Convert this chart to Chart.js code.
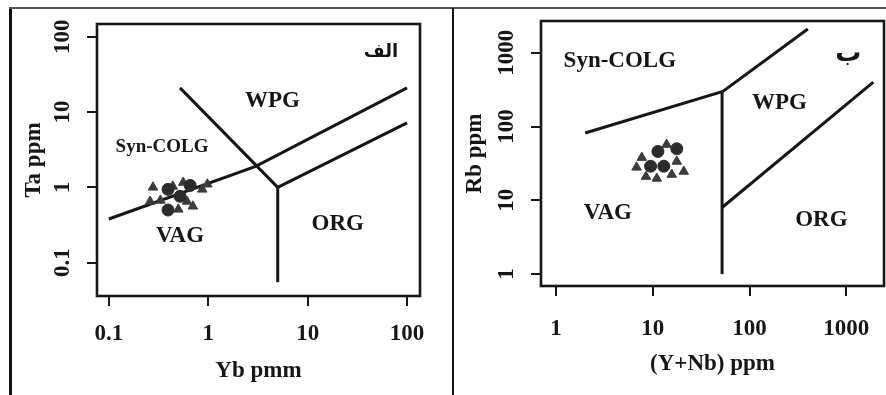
<!DOCTYPE html>
<html><head><meta charset="utf-8">
<script src="https://cdn.jsdelivr.net/npm/chart.js@4.4.1/dist/chart.umd.min.js"></script>
<style>
html,body{margin:0;padding:0;background:#fff;}
#wrap{position:relative;width:886px;height:395px;overflow:hidden;background:#fff;}
canvas{position:absolute;top:0;}
.ln{position:absolute;background:#111;}
</style></head><body>
<div id="wrap">
<canvas id="c1" width="450" height="395" style="left:0px"></canvas>
<canvas id="c2" width="436" height="395" style="left:455px"></canvas>
<div class="ln" style="left:9px;top:8px;width:3px;height:387px;"></div>
<div class="ln" style="left:9px;top:7px;width:877px;height:2px;background:#555"></div>
<div class="ln" style="left:452px;top:8px;width:2px;height:387px;"></div>
</div>
<script>
// ---------- Panel A (Ta vs Yb) ----------
const aXTicks = [0.1, 1, 10, 100];
const aYTicks = [0.1, 1, 10, 100];
const aLineVagWpg = [{x:0.1,y:0.38},{x:3,y:1.9},{x:100,y:21}];
const aLineWpgCol = [{x:0.52,y:21},{x:5,y:1}];
const aLineVagOrg = [{x:5,y:1},{x:5,y:0.055}];
const aLineWpgOrg = [{x:5,y:1},{x:100,y:7.2}];
const aCircles = [{x:0.394,y:0.94},{x:0.658,y:1.06},{x:0.52,y:0.76},{x:0.394,y:0.50}];
const aTriangles = [{x:0.278,y:1.0},{x:0.33,y:0.67},{x:0.44,y:1.03},{x:0.87,y:0.94},{x:0.61,y:0.65},
  {x:0.50,y:0.51},{x:0.26,y:0.65},{x:0.98,y:1.1},{x:0.70,y:0.56},{x:0.56,y:1.16}];
const aLabels = [
  {t:'WPG', x:4.43, y:13.8, s:23},
  {t:'Syn-COLG', x:0.343, y:3.39, s:19},
  {t:'VAG', x:0.52, y:0.224, s:23},
  {t:'ORG', x:20.1, y:0.324, s:23},
  {t:'الف', x:54.6, y:63, s:18, ar:true}
];

// ---------- Panel B (Rb vs Y+Nb) ----------
const bXTicks = [1, 10, 100, 1000];
const bYTicks = [1, 10, 100, 1000];
const bLineCol = [{x:2,y:82},{x:53,y:300},{x:400,y:2100}];
const bLineVagOrg = [{x:52,y:1},{x:52,y:300}];
const bLineWpgOrg = [{x:52,y:8},{x:1900,y:400}];
const bCircles = [{x:11.3,y:46},{x:17.7,y:50},{x:9.5,y:29},{x:13,y:29}];
const bTriangles = [{x:7.7,y:38},{x:13.9,y:57},{x:6.8,y:28},{x:8.5,y:21},{x:11,y:19.8},
  {x:15.7,y:22.4},{x:20.9,y:24.6},{x:17.7,y:33.7}];
const bLabels = [
  {t:'Syn-COLG', x:4.57, y:776, s:23},
  {t:'WPG', x:204, y:211, s:23},
  {t:'VAG', x:3.44, y:6.67, s:23},
  {t:'ORG', x:552, y:5.37, s:23},
  {t:'ب', x:1050, y:950, s:26, ar:true}
];

const FAM = '"Liberation Serif","Times New Roman",serif';
const INK = '#161616';
const font = (s) => ({family: FAM, size: s, weight: 'bold'});

const boxPlugin = {
  id: 'box',
  beforeDatasetsDraw(chart) {
    const {ctx, chartArea: a} = chart;
    ctx.save();
    ctx.strokeStyle = INK; ctx.lineWidth = 2.6;
    ctx.strokeRect(a.left, a.top, a.right - a.left, a.bottom - a.top);
    ctx.restore();
  }
};
const labelPlugin = {
  id: 'regionLabels',
  afterDatasetsDraw(chart, args, opts) {
    const {ctx, scales} = chart;
    ctx.save();
    ctx.fillStyle = INK; ctx.textAlign = 'center'; ctx.textBaseline = 'middle';
    (opts.items || []).forEach(l => {
      ctx.font = l.ar ? ('bold ' + l.s + 'px "DejaVu Sans","Noto Sans",sans-serif') : ('bold ' + l.s + 'px ' + FAM);
      ctx.fillText(l.t, scales.x.getPixelForValue(l.x), scales.y.getPixelForValue(l.y));
    });
    ctx.restore();
  }
};

function lineDs(data) {
  return {data, showLine: true, borderColor: INK, borderWidth: 3, pointRadius: 0, fill: false, tension: 0};
}
function ptsDs(data, style, r, col) {
  return {data, showLine: false, pointStyle: style, pointRadius: r, backgroundColor: col, borderColor: col, borderWidth: 1};
}

function makeChart(id, cfg) {
  return new Chart(document.getElementById(id), {
    type: 'scatter',
    data: {datasets: [
      ptsDs(cfg.circles, 'circle', 6, '#2b2b2b'),
      ptsDs(cfg.triangles, 'triangle', 5.5, '#3c3c3c'),
      ...cfg.lines.map(lineDs)
    ]},
    options: {
      responsive: false, animation: false, devicePixelRatio: 1, events: [],
      layout: {padding: cfg.pad},
      plugins: {legend: {display: false}, tooltip: {enabled: false}, regionLabels: {items: cfg.labels}},
      scales: {
        x: {
          type: 'logarithmic', position: 'bottom', min: cfg.xMin, max: cfg.xMax,
          afterFit(s) { s.height = cfg.xH; },
          afterBuildTicks(s) { s.ticks = cfg.xTicks.map(v => ({value: v})); },
          ticks: {callback: v => String(v), font: font(23), color: INK, padding: cfg.xPad, maxRotation: 0, autoSkip: false},
          grid: {drawOnChartArea: false, drawTicks: true, tickLength: 10, color: INK, lineWidth: 2},
          border: {display: false},
          title: {display: true, text: cfg.xTitle, font: font(23), color: INK, padding: {top: 0, bottom: cfg.xTitlePad}}
        },
        y: {
          type: 'logarithmic', position: 'left', min: cfg.yMin, max: cfg.yMax,
          afterFit(s) { s.width = cfg.yW; },
          afterBuildTicks(s) { s.ticks = cfg.yTicks.map(v => ({value: v})); },
          ticks: {callback: v => String(v), font: font(23), color: INK, padding: cfg.yPad, minRotation: 90, maxRotation: 90, autoSkip: false, crossAlign: 'center'},
          grid: {drawOnChartArea: false, drawTicks: true, tickLength: 10, color: INK, lineWidth: 2},
          border: {display: false},
          title: {display: true, text: cfg.yTitle, font: font(23), color: INK, padding: {top: cfg.yTitlePad, bottom: 0}}
        }
      }
    },
    plugins: [boxPlugin, labelPlugin]
  });
}

makeChart('c1', {
  circles: aCircles, triangles: aTriangles,
  lines: [aLineVagWpg, aLineWpgCol, aLineVagOrg, aLineWpgOrg],
  labels: aLabels,
  pad: {left: 0, top: 24, right: 30, bottom: 0},
  xMin: 0.076, xMax: 135, yMin: 0.036, yMax: 148,
  xH: 99, yW: 97, xTicks: aXTicks, yTicks: aYTicks,
  xPad: 14, yPad: 7, xTitle: 'Yb pmm', yTitle: 'Ta ppm', xTitlePad: 10, yTitlePad: 20
});
makeChart('c2', {
  circles: bCircles, triangles: bTriangles,
  lines: [bLineCol, bLineVagOrg, bLineWpgOrg],
  labels: bLabels,
  pad: {left: 0, top: 21, right: 0, bottom: 0},
  xMin: 0.74, xMax: 2450, yMin: 0.69, yMax: 2700,
  xH: 109, yW: 86, xTicks: bXTicks, yTicks: bYTicks,
  xPad: 19, yPad: 1, xTitle: '(Y+Nb) ppm', yTitle: 'Rb ppm', xTitlePad: 17, yTitlePad: 6
});
</script>
</body></html>
